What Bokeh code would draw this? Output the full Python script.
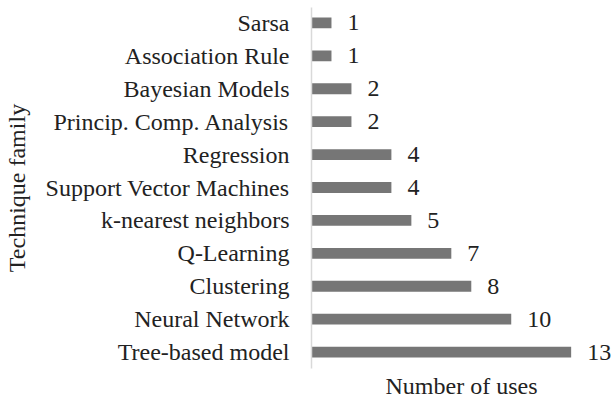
from bokeh.plotting import figure
from bokeh.models import Range1d, FixedTicker, ColumnDataSource
from bokeh.core.properties import value
from bokeh.embed import file_html
from bokeh.resources import INLINE

# Data (bottom to top)
categories = ["Tree-based model", "Neural Network", "Clustering", "Q-Learning",
              "k-nearest neighbors", "Support Vector Machines", "Regression",
              "Princip. Comp. Analysis", "Bayesian Models", "Association Rule", "Sarsa"]
uses = [13, 10, 8, 7, 5, 4, 4, 2, 2, 1, 1]
x_title = "Number of uses"
y_title = "Technique family"

FONT = "Liberation Serif"
positions = list(range(len(categories)))
source = ColumnDataSource(dict(y=positions, v=uses, lab=[str(u) for u in uses]))

p = figure(width=611, height=401, output_backend="svg", toolbar_location=None,
           x_range=Range1d(0, 15.02), y_range=Range1d(-0.498, 10.468),
           min_border_left=311, min_border_right=0, min_border_top=7, min_border_bottom=31)
p.outline_line_color = None
p.background_fill_color = "white"
p.xgrid.visible = False
p.ygrid.visible = False

p.hbar(y="y", right="v", left=0, height=0.33, source=source,
       fill_color="#767676", line_color=None)
p.text(x="v", y="y", text="lab", source=source, x_offset=16,
       text_align="left", text_baseline="middle",
       text_font=value(FONT), text_font_size="24px", text_color="#222222")

xa = p.xaxis[0]
xa.ticker = FixedTicker(ticks=[])
xa.axis_line_color = None
xa.major_tick_line_color = None
xa.minor_tick_line_color = None
xa.major_tick_out = 0
xa.major_tick_in = 0
xa.major_label_standoff = 0
xa.axis_label = x_title
xa.axis_label_text_font = FONT
xa.axis_label_text_font_size = "24px"
xa.axis_label_text_font_style = "normal"
xa.axis_label_text_color = "#222222"
xa.axis_label_standoff = 4

ya = p.yaxis[0]
ya.ticker = FixedTicker(ticks=positions)
ya.major_label_overrides = {i: c for i, c in zip(positions, categories)}
ya.major_tick_line_color = None
ya.minor_tick_line_color = None
ya.major_tick_out = 0
ya.major_tick_in = 0
ya.axis_line_color = "#d9d9d9"
ya.axis_line_width = 1.5
ya.major_label_standoff = 22
ya.major_label_text_font = FONT
ya.major_label_text_font_size = "24px"
ya.major_label_text_color = "#222222"
ya.axis_label = y_title
ya.axis_label_text_font = FONT
ya.axis_label_text_font_size = "24px"
ya.axis_label_text_font_style = "normal"
ya.axis_label_text_color = "#222222"
ya.axis_label_standoff = 13

open("out.html", "w").write(file_html(p, INLINE))
